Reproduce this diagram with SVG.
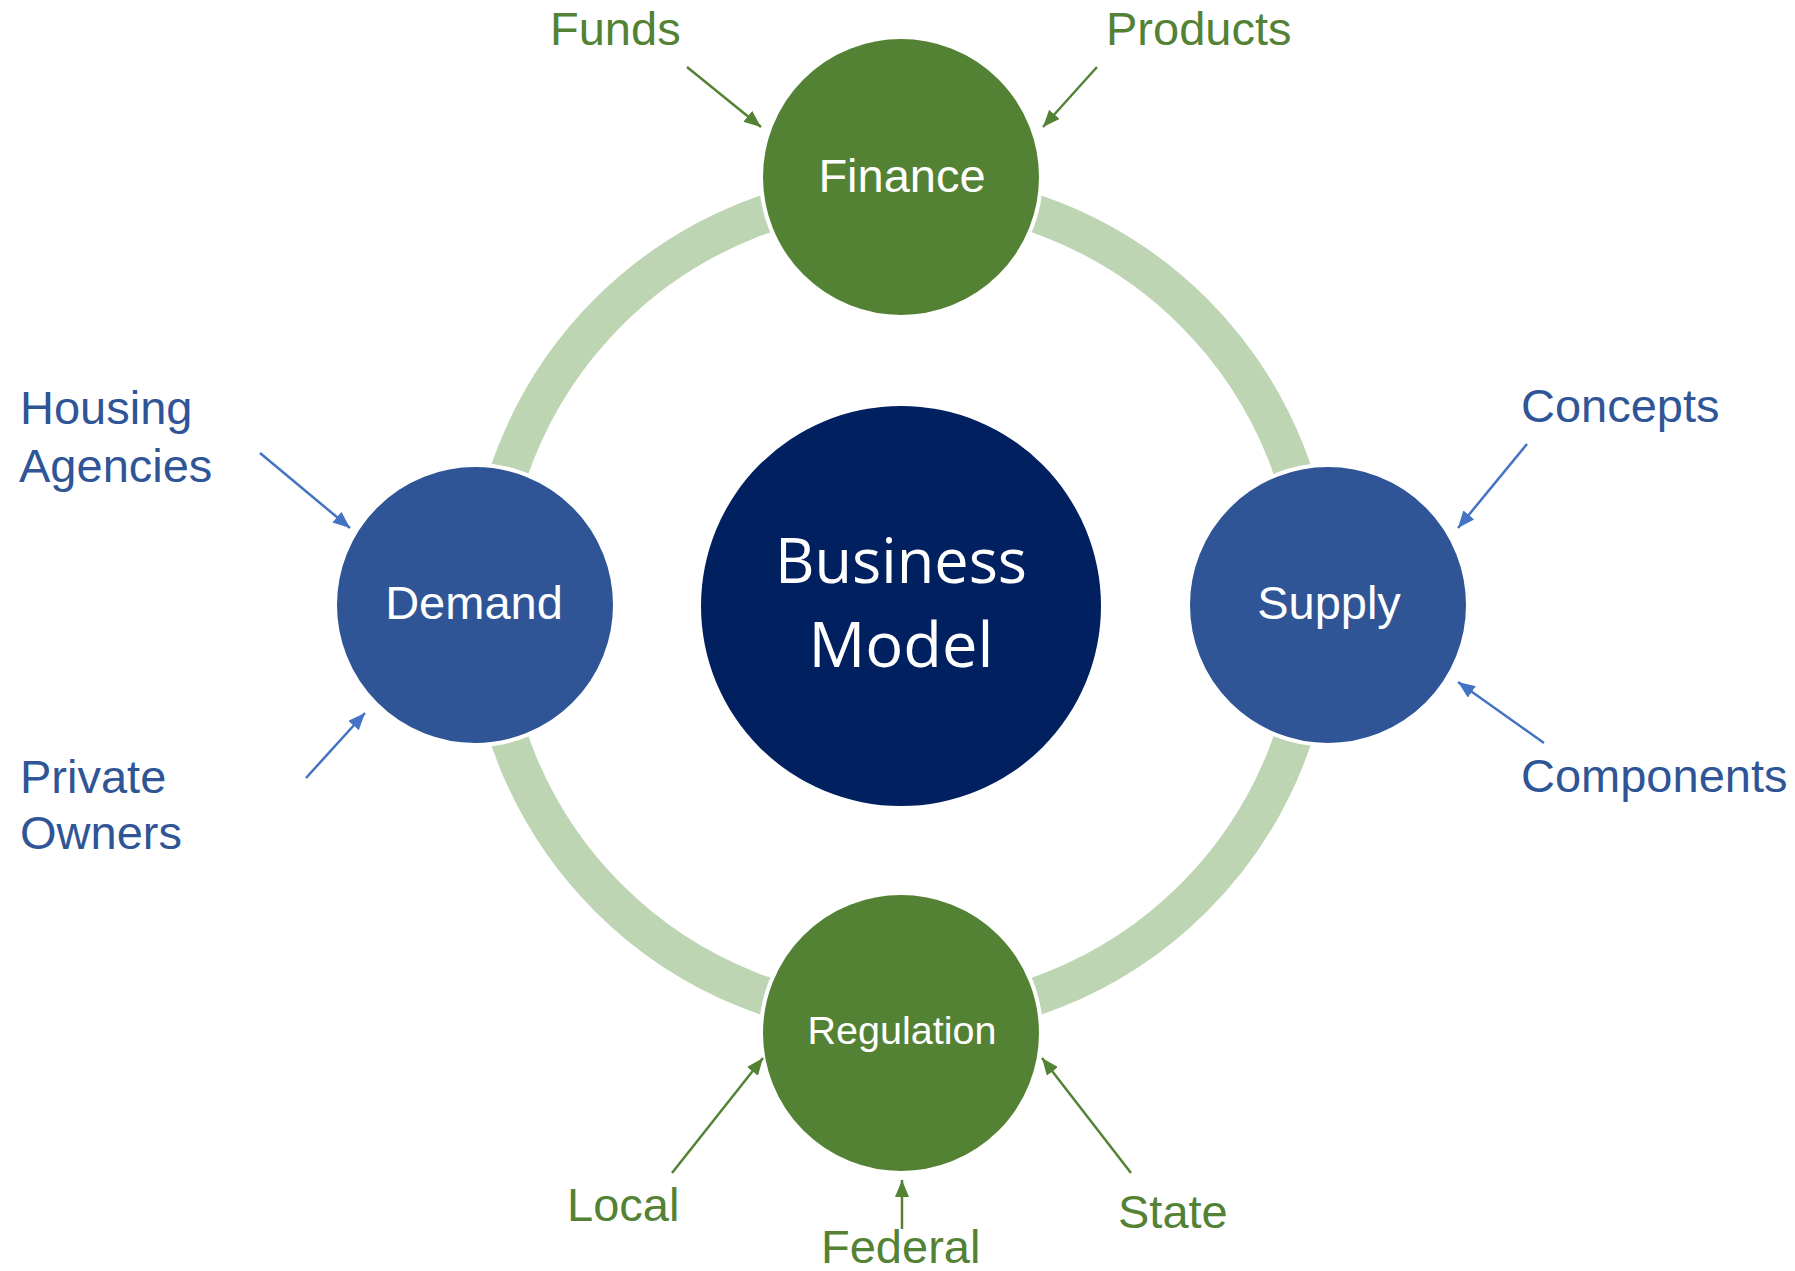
<svg xmlns="http://www.w3.org/2000/svg" width="1795" height="1271" viewBox="0 0 1795 1271">
<style>
.lbl{font-family:"Liberation Sans",Arial,sans-serif;font-size:47px}
.g{fill:#548235}
.b{fill:#2F5597}
.nt{font-family:"Liberation Sans",Arial,sans-serif;font-size:47px;fill:#ffffff;text-anchor:middle}
.sat{stroke:#ffffff;stroke-width:4}
.ag{stroke:#548235;stroke-width:2.5;fill:none;marker-end:url(#mg)}
.ab{stroke:#4472C4;stroke-width:2.5;fill:none;marker-end:url(#mb)}
</style>
<defs>
<marker id="mg" markerUnits="userSpaceOnUse" markerWidth="18" markerHeight="14" refX="17" refY="7" orient="auto"><path d="M0,0 L17,7 L0,14 z" fill="#548235"/></marker>
<marker id="mb" markerUnits="userSpaceOnUse" markerWidth="18" markerHeight="14" refX="17" refY="7" orient="auto"><path d="M0,0 L17,7 L0,14 z" fill="#4472C4"/></marker>
</defs>
<rect width="1795" height="1271" fill="#ffffff"/>
<g id="ring"><circle cx="901" cy="605" r="414" fill="none" stroke="#BDD5B2" stroke-width="38"/></g>
<g id="business-model">
<circle cx="901" cy="606" r="200" fill="#002060"/>
<text x="901" y="583" font-family="'Open Sans','Noto Sans',sans-serif" font-size="62" fill="#ffffff" text-anchor="middle" textLength="252" lengthAdjust="spacingAndGlyphs">Business</text>
<text x="901" y="667" font-family="'Open Sans','Noto Sans',sans-serif" font-size="62" fill="#ffffff" text-anchor="middle" textLength="185" lengthAdjust="spacingAndGlyphs">Model</text>
</g>
<g id="finance"><circle class="sat" cx="901" cy="177" r="140" fill="#548235"/><text class="nt" x="902" y="192">Finance</text></g>
<g id="regulation"><circle class="sat" cx="901" cy="1033" r="140" fill="#548235"/><text class="nt" x="902" y="1044" style="font-size:39.5px">Regulation</text></g>
<g id="demand"><circle class="sat" cx="475" cy="605" r="140" fill="#2F5597"/><text class="nt" x="474" y="619">Demand</text></g>
<g id="supply"><circle class="sat" cx="1328" cy="605" r="140" fill="#2F5597"/><text class="nt" x="1329" y="619">Supply</text></g>
<g id="labels">
<text class="lbl g" x="550" y="45">Funds</text>
<text class="lbl g" x="1106" y="45">Products</text>
<text class="lbl b" x="20" y="424">Housing</text>
<text class="lbl b" x="19" y="482">Agencies</text>
<text class="lbl b" x="20" y="793">Private</text>
<text class="lbl b" x="20" y="849">Owners</text>
<text class="lbl b" x="1521" y="422">Concepts</text>
<text class="lbl b" x="1521" y="792">Components</text>
<text class="lbl g" x="567" y="1221">Local</text>
<text class="lbl g" x="821" y="1263">Federal</text>
<text class="lbl g" x="1118" y="1228">State</text>
</g>
<g id="connectors">
<line class="ag" x1="687" y1="67" x2="761" y2="127"/>
<line class="ag" x1="1097" y1="67" x2="1043" y2="127"/>
<line class="ab" x1="260" y1="453" x2="350" y2="528"/>
<line class="ab" x1="306" y1="778" x2="365" y2="713"/>
<line class="ab" x1="1527" y1="444" x2="1458" y2="528"/>
<line class="ab" x1="1544" y1="743" x2="1458" y2="682"/>
<line class="ag" x1="672" y1="1173" x2="763" y2="1058"/>
<line class="ag" x1="902" y1="1229" x2="902" y2="1180"/>
<line class="ag" x1="1131" y1="1173" x2="1042" y2="1058"/>
</g>
</svg>
